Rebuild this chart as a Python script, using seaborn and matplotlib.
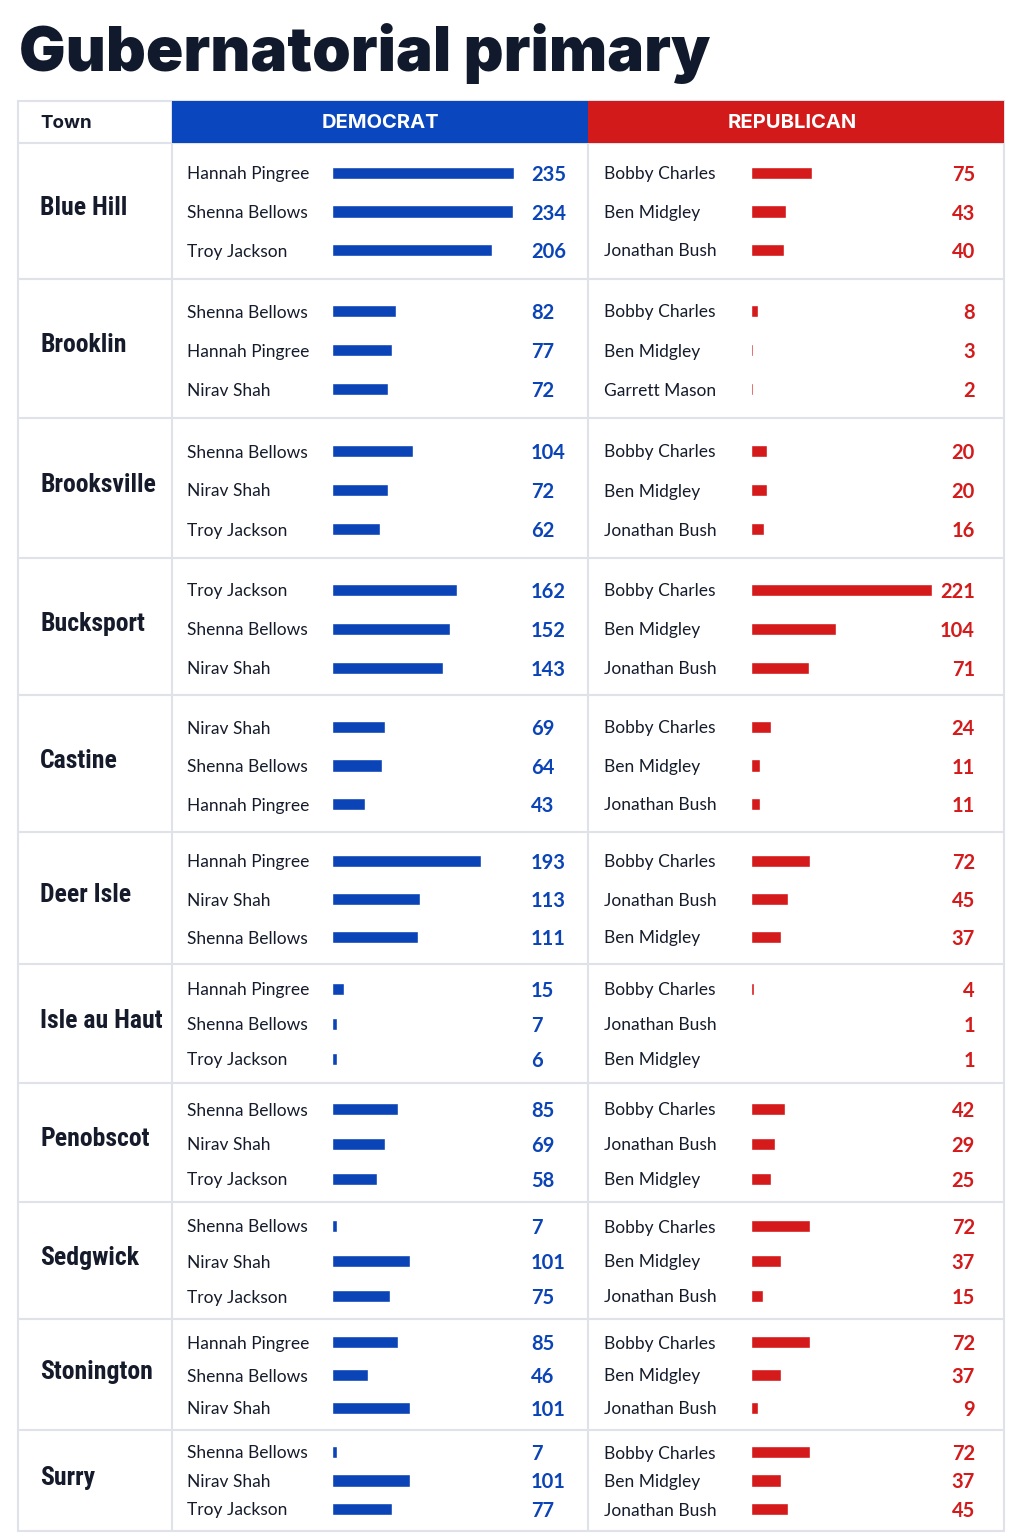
import matplotlib
matplotlib.use("Agg")
import matplotlib.pyplot as plt
import matplotlib.transforms as mtransforms
import seaborn as sns
import pandas as pd

# ---- data ----
towns = ["Blue Hill", "Brooklin", "Brooksville", "Bucksport", "Castine", "Deer Isle",
         "Isle au Haut", "Penobscot", "Sedgwick", "Stonington", "Surry"]

dem_cands = [
    ["Hannah Pingree", "Shenna Bellows", "Troy Jackson"],
    ["Shenna Bellows", "Hannah Pingree", "Nirav Shah"],
    ["Shenna Bellows", "Nirav Shah", "Troy Jackson"],
    ["Troy Jackson", "Shenna Bellows", "Nirav Shah"],
    ["Nirav Shah", "Shenna Bellows", "Hannah Pingree"],
    ["Hannah Pingree", "Nirav Shah", "Shenna Bellows"],
    ["Hannah Pingree", "Shenna Bellows", "Troy Jackson"],
    ["Shenna Bellows", "Nirav Shah", "Troy Jackson"],
    ["Shenna Bellows", "Nirav Shah", "Troy Jackson"],
    ["Hannah Pingree", "Shenna Bellows", "Nirav Shah"],
    ["Shenna Bellows", "Nirav Shah", "Troy Jackson"],
]
dem_votes = [
    [235, 234, 206], [82, 77, 72], [104, 72, 62], [162, 152, 143], [69, 64, 43],
    [193, 113, 111], [15, 7, 6], [85, 69, 58], [7, 101, 75], [85, 46, 101], [7, 101, 77],
]

rep_cands = [
    ["Bobby Charles", "Ben Midgley", "Jonathan Bush"],
    ["Bobby Charles", "Ben Midgley", "Garrett Mason"],
    ["Bobby Charles", "Ben Midgley", "Jonathan Bush"],
    ["Bobby Charles", "Ben Midgley", "Jonathan Bush"],
    ["Bobby Charles", "Ben Midgley", "Jonathan Bush"],
    ["Bobby Charles", "Jonathan Bush", "Ben Midgley"],
    ["Bobby Charles", "Jonathan Bush", "Ben Midgley"],
    ["Bobby Charles", "Jonathan Bush", "Ben Midgley"],
    ["Bobby Charles", "Ben Midgley", "Jonathan Bush"],
    ["Bobby Charles", "Ben Midgley", "Jonathan Bush"],
    ["Bobby Charles", "Ben Midgley", "Jonathan Bush"],
]
rep_votes = [
    [75, 43, 40], [8, 3, 2], [20, 20, 16], [221, 104, 71], [24, 11, 11],
    [72, 45, 37], [4, 1, 1], [42, 29, 25], [72, 37, 15], [72, 37, 9], [72, 37, 45],
]

# ---- layout (pixels) ----
W, H = 1024, 1536
row_tops = [143, 279, 418, 558, 695, 832, 964, 1083, 1202, 1319, 1430, 1531]
first_line = [173, 311, 451, 590, 727, 861, 989, 1109, 1226, 1342, 1452]
line_gap = [38.5, 39, 39, 39, 38.5, 38, 35, 35, 35, 33, 28.5]

BLUE = "#0b44b6"
BLUE_HEAD = "#0a46bd"
RED = "#d41a1a"
RED_HEAD = "#d31a1a"
INK = "#151b2b"
GRID = "#dfe2e8"

sns.set_theme(style="white")
plt.rcParams["font.family"] = ["Lato", "DejaVu Sans"]


def fx(px):
    return px / W


def fy(py):
    return 1 - py / H


fig = plt.figure(figsize=(W / 100, H / 100), dpi=100)
fig.patch.set_facecolor("white")

# background axes in pixel coordinates for the table frame
bg = fig.add_axes([0, 0, 1, 1])
bg.set_xlim(0, W)
bg.set_ylim(H, 0)
bg.axis("off")
bg.add_patch(plt.Rectangle((172, 101), 416, 42, color=BLUE_HEAD, lw=0))
bg.add_patch(plt.Rectangle((588, 101), 416, 42, color=RED_HEAD, lw=0))
for x in [18, 172, 588, 1004]:
    bg.plot([x, x], [101, 1531], color=GRID, lw=1.5, zorder=0)
for y in [101] + row_tops:
    bg.plot([18, 1004], [y, y], color=GRID, lw=1.5, zorder=0)

fig.text(fx(19), fy(54), "Gubernatorial primary", fontsize=44.5, fontweight="black",
         family=["Inter", "DejaVu Sans"], color="#111a2c", va="center")
fig.text(fx(40), fy(123.5), "Town", fontsize=13.5, fontweight="bold",
         family=["Inter", "DejaVu Sans"], color=INK, va="center")
fig.text(fx(380), fy(123.5), "DEMOCRAT", fontsize=14.5, fontweight="bold", color="white",
         family=["Inter", "DejaVu Sans"], va="center", ha="center")
fig.text(fx(792), fy(123.5), "REPUBLICAN", fontsize=14.5, fontweight="bold", color="white",
         family=["Inter", "DejaVu Sans"], va="center", ha="center")

dem_max = max(max(v) for v in dem_votes)
rep_max = max(max(v) for v in rep_votes)

panels = [
    (dem_cands, dem_votes, dem_max, 332, 514, 187, 531, "left", BLUE),
    (rep_cands, rep_votes, rep_max, 751, 932, 604, 975, "right", RED),
]

town_font = ["Roboto Condensed", "Open Sans Condensed", "Noto Sans Condensed",
             "DejaVu Sans"]

for i, town in enumerate(towns):
    center = (row_tops[i] + row_tops[i + 1]) / 2
    fig.text(fx(40), fy(center - 3), town, fontsize=18.5, fontweight="bold",
             fontstretch="condensed", family=town_font, color=INK, va="center")
    gap = line_gap[i]
    top = first_line[i] - gap / 2
    for cands, votes, vmax, x0, x1, name_x, val_x, val_ha, col in panels:
        ax = fig.add_axes([fx(x0), fy(top + 3 * gap), fx(x1) - fx(x0), 3 * gap / H])
        df = pd.DataFrame({"cand": cands[i], "votes": votes[i]})
        sns.barplot(data=df, x="votes", y="cand", ax=ax, orient="h", color=col,
                    saturation=1, width=12.5 / gap)
        ax.set_xlim(0, vmax)
        ax.set_ylim(2.5, -0.5)
        ax.axis("off")
        trans = mtransforms.blended_transform_factory(fig.transFigure, ax.transData)
        for j, (c, v) in enumerate(zip(cands[i], votes[i])):
            ax.text(fx(name_x), j, c, transform=trans, fontsize=12.5, color=INK,
                    va="center_baseline", clip_on=False)
            ax.text(fx(val_x), j, str(v), transform=trans, fontsize=14.5, fontweight="bold",
                    color=col, va="center_baseline", ha=val_ha, clip_on=False)

fig.savefig("out.png", dpi=100)
